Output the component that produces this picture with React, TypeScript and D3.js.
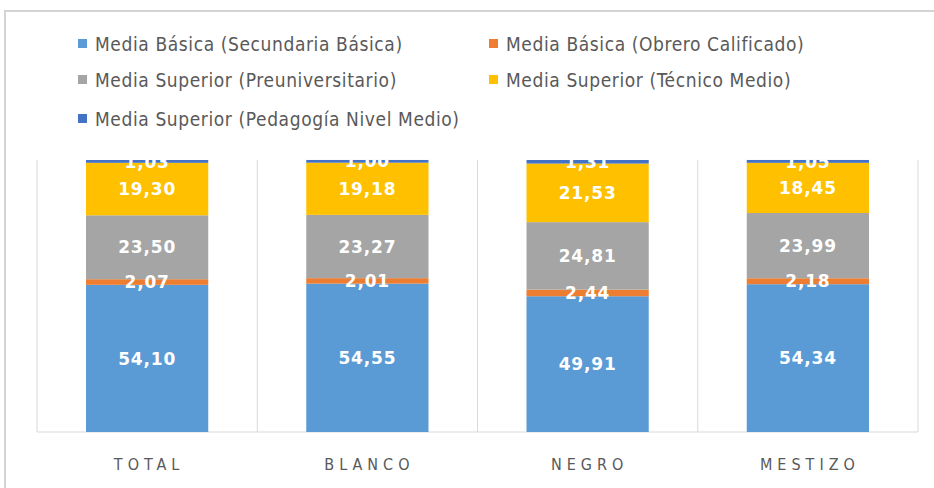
import React from "react";
import * as d3 from "d3";

const categories = ["TOTAL", "BLANCO", "NEGRO", "MESTIZO"];
const seriesNames = [
  "Media Básica (Secundaria Básica)",
  "Media Básica (Obrero Calificado)",
  "Media Superior (Preuniversitario)",
  "Media Superior (Técnico Medio)",
  "Media Superior (Pedagogía Nivel Medio)",
];
const secundariaBasica = [54.10, 54.55, 49.91, 54.34];
const obreroCalificado = [2.07, 2.01, 2.44, 2.18];
const preuniversitario = [23.50, 23.27, 24.81, 23.99];
const tecnicoMedio = [19.30, 19.18, 21.53, 18.45];
const pedagogia = [1.03, 1.00, 1.31, 1.05];
const colors = ["#5B9BD5", "#ED7D31", "#A5A5A5", "#FFC000", "#4472C4"];

const W = 934, H = 488;
const plot = { left: 37, right: 918, top: 160, bottom: 432 };
const narrow = "'Liberation Sans Narrow', 'DejaVu Sans Condensed', 'Roboto Condensed', sans-serif";

export default function App() {
  const seriesVals = [secundariaBasica, obreroCalificado, preuniversitario, tecnicoMedio, pedagogia];
  const rows = categories.map((c, i) => {
    const r: any = { cat: c };
    seriesVals.forEach((s, k) => (r["s" + k] = s[i]));
    return r;
  });
  const keys = seriesVals.map((_, k) => "s" + k);
  const stacked = d3.stack().keys(keys)(rows);
  const x = d3.scaleBand().domain(categories).range([plot.left, plot.right]).paddingInner(0).paddingOuter(0);
  const y = d3.scaleLinear().domain([0, 100]).range([plot.bottom, plot.top]);
  const bw = x.bandwidth() * 0.555;
  const fmt = (v: number) => v.toFixed(2).replace(".", ",");
  const legendPos = [
    [78, 44], [489, 44], [78, 80], [489, 80], [78, 119],
  ];
  const gridXs = categories.map((c) => x(c)!).concat([plot.right]);
  return (
    <svg width={W} height={H} style={{ position: "absolute", left: 0, top: 0, background: "#fff" }}>
      <defs>
        <clipPath id="plotclip">
          <rect x={plot.left} y={plot.top} width={plot.right - plot.left} height={plot.bottom - plot.top} />
        </clipPath>
      </defs>
      <rect x={5} y={11} width={1000} height={1000} fill="#fff" stroke="#d4d4d4" strokeWidth={2} />
      {gridXs.map((gx, i) => (
        <line key={i} x1={gx} x2={gx} y1={plot.top} y2={plot.bottom} stroke="#d9d9d9" strokeWidth={1} />
      ))}
      <line x1={plot.left} x2={plot.right} y1={plot.bottom} y2={plot.bottom} stroke="#d9d9d9" strokeWidth={1} />
      <g>
        {stacked.map((layer, k) => (
          <g key={k} fill={colors[k]}>
            {layer.map((d, i) => (
              <rect
                key={i}
                x={x(categories[i])! + (x.bandwidth() - bw) / 2}
                y={y(d[1])}
                width={bw}
                height={y(d[0]) - y(d[1])}
              />
            ))}
          </g>
        ))}
      </g>
      <g clipPath="url(#plotclip)">
        {stacked.map((layer, k) =>
          layer.map((d, i) => (
            <text
              key={k + "-" + i}
              x={x(categories[i])! + x.bandwidth() / 2}
              y={(y(d[0]) + y(d[1])) / 2}
              dy="0.36em"
              textAnchor="middle"
              fill="#fff"
              fontFamily="'DejaVu Sans', Verdana, sans-serif"
              fontWeight="bold"
              fontSize={17}
              letterSpacing={0.8}
            >
              {fmt(seriesVals[k][i])}
            </text>
          ))
        )}
      </g>
      {categories.map((c) => (
        <text
          key={c}
          x={x(c)! + x.bandwidth() / 2 + 2}
          y={470}
          textAnchor="middle"
          fill="#595959"
          fontFamily={narrow}
          fontSize={16}
          letterSpacing={5}
        >
          {c}
        </text>
      ))}
      {seriesNames.map((n, k) => (
        <g key={n} transform={`translate(${legendPos[k][0]},${legendPos[k][1]})`}>
          <rect x={0} y={-5} width={9} height={9} fill={colors[k]} />
          <text x={17} y={0} dy="0.35em" fill="#595959" fontFamily={narrow} fontSize={19} letterSpacing={0.6}>
            {n}
          </text>
        </g>
      ))}
    </svg>
  );
}
